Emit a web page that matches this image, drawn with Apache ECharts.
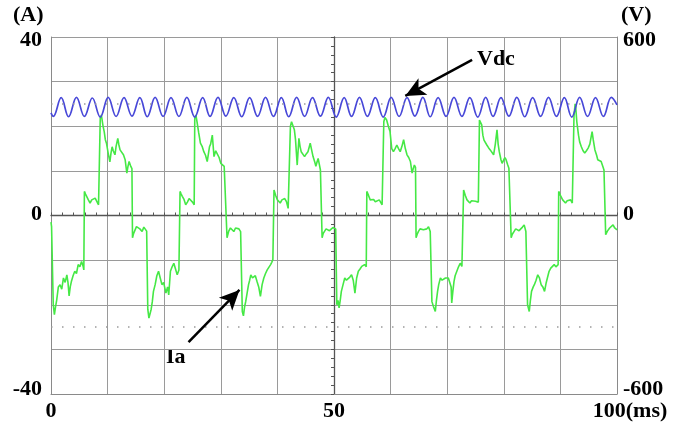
<!DOCTYPE html>
<html>
<head>
<meta charset="utf-8">
<script src="https://cdn.jsdelivr.net/npm/echarts@6/dist/echarts.min.js"></script>
<style>
html,body{margin:0;padding:0;background:#fff;}
#c{width:684px;height:427px;}
</style>
</head>
<body>
<div id="c"></div>
<script>
// ---- data ----
var xTicks = [0, 50, 100];           // ms
var leftTicks = [-40, 0, 40];        // A
var rightTicks = [-600, 0, 600];     // V
var cursorLevels = [-25, 25];        // A (dotted cursors)

// Ia (A) vs time (ms)
var iaData = [
[0.0,-1.5],[0.1,-2.5],[0.4,-20],[0.6,-22.2],[0.8,-20.5],[1.0,-19],[1.3,-16],[1.6,-15.5],[1.9,-16.5],[2.2,-14],[2.5,-15],[2.8,-13.3],[3.0,-15],[3.2,-18],[3.4,-16],[3.6,-14.8],[3.9,-13.5],[4.2,-12.5],[4.5,-13],[4.8,-11],[5.1,-11.5],[5.4,-10.3],[5.7,-11.5],[5.8,-12.2],
[5.9,5.4],[6.1,4.8],[6.3,4.6],[6.6,3.5],[6.9,2.8],[7.2,3.5],[7.5,3.3],[7.8,3.9],[8.1,3.5],[8.4,2.4],[8.5,2.4],
[8.7,21.8],[8.9,22.5],[9.1,22.2],[9.2,20],[9.4,18.8],[9.6,17],[9.8,16.2],[10.1,14],[10.4,12],[10.6,14],[10.8,15.4],[11.0,14.5],[11.3,13.6],[11.5,15.5],[11.8,17.3],[12.0,15.8],[12.2,14.7],[12.5,14.5],[12.8,13.6],[13.1,12.5],[13.4,9.5],[13.6,11],[13.8,12.1],[14.1,11],[14.3,10.5],
[14.4,-5],[14.6,-4],[14.8,-3.6],[15.1,-2.5],[15.4,-2.8],[15.7,-3],[16.1,-3.6],[16.4,-2.6],[16.7,-3],[16.9,-3.5],
[17.1,-21],[17.3,-23],[17.5,-23],[17.7,-21],[17.9,-19.3],[18.1,-17],[18.4,-15.5],[18.7,-13.5],[19.0,-12.5],[19.3,-14],[19.6,-15.5],[19.9,-15],[20.1,-14.8],[20.3,-17.4],[20.6,-16],[20.8,-17.8],[21.1,-12.5],[21.4,-11.5],[21.7,-10.7],[22.0,-12],[22.3,-13.3],[22.6,-12.2],[22.7,-12],
[22.8,5.4],[23.0,4.8],[23.2,4.3],[23.5,3.6],[23.8,2.4],[24.1,3],[24.4,3.8],[24.7,3.5],[25.0,3],[25.3,2.4],
[25.4,21.8],[25.6,22.5],[25.8,21],[26.1,18.5],[26.4,16.2],[26.7,15.5],[27.0,14.3],[27.3,13.5],[27.6,12.1],[28.0,15.4],[28.2,16],[28.5,18],[28.8,13.2],[29.1,14.5],[29.4,14.3],[29.7,13],[30.0,11.7],[30.3,11.5],[30.6,11],[30.9,10.6],
[31.1,-5],[31.4,-3.5],[31.7,-2.8],[32.0,-3.2],[32.3,-3.6],[32.6,-2.8],[32.9,-2.5],[33.2,-3],[33.5,-3.6],[33.7,-4],
[33.8,-21.5],[34.0,-22.5],[34.2,-20.5],[34.4,-19.3],[34.7,-17],[34.9,-15.5],[35.1,-14.5],[35.3,-13.3],[35.6,-14],[35.9,-14.4],[36.1,-13.5],[36.4,-14.8],[36.7,-16],[37.0,-18.1],[37.3,-15.5],[37.6,-14],[37.9,-13],[38.2,-12.2],[38.5,-12],[38.8,-11],[39.0,-10.5],[39.2,-9.9],
[39.4,5.7],[39.7,4.5],[40.0,3.5],[40.3,3.3],[40.5,2.8],[40.8,3.5],[41.0,3.5],[41.3,3.8],[41.6,3.1],[41.9,1.6],[42.1,2],
[42.3,20],[42.5,21],[42.7,20.3],[43.0,19.2],[43.2,17],[43.5,11.3],[43.8,17.3],[44.0,15.5],[44.2,14.3],[44.5,14],[44.8,13.2],[45.1,13.8],[45.4,14.3],[45.8,16.2],[46.0,15],[46.3,13.2],[46.6,12],[46.8,11],[47.0,12],[47.2,12.8],[47.4,11.5],[47.6,10.2],[47.8,10],
[47.9,-5],[48.1,-4],[48.3,-3.6],[48.6,-3],[48.9,-2.8],[49.2,-3.4],[49.5,-3.2],[49.8,-2.7],[50.1,-2.5],[50.3,-3],
[50.5,-20],[50.7,-19],[50.9,-20.7],[51.1,-19],[51.3,-17],[51.6,-15.5],[51.9,-14],[52.2,-14.5],[52.5,-14.8],[52.8,-13.8],[53.1,-13.3],[53.4,-14.5],[53.7,-17.4],[54.0,-14],[54.3,-12.5],[54.6,-12],[54.9,-11.4],[55.2,-11.5],[55.4,-11],[55.7,-11.5],
[55.8,5.4],[56.1,4.5],[56.4,3.5],[56.7,3.2],[57.0,3.6],[57.3,3.1],[57.6,3.4],[58.0,3.5],[58.3,3.1],[58.5,2.4],
[58.8,21],[59.0,22],[59.3,21.4],[59.6,20],[59.9,18.8],[60.2,15],[60.5,14.3],[60.8,15],[61.1,15.8],[61.4,15],[61.7,14.3],[62.0,15.5],[62.3,17],[62.6,15],[62.9,13.6],[63.2,13],[63.5,12.1],[63.8,9.5],[64.0,10.5],[64.2,11.3],[64.4,10.8],
[64.5,-5],[64.7,-4.2],[64.9,-3.6],[65.2,-3],[65.5,-2.8],[65.8,-3.2],[66.1,-3.6],[66.4,-3],[66.7,-2.5],[67.0,-3.6],[67.2,-4],
[67.3,-19.3],[67.6,-20.5],[67.9,-21.5],[68.1,-19],[68.3,-17],[68.5,-15.5],[68.8,-14],[69.1,-14.5],[69.4,-14.8],[69.7,-14],[69.9,-13.7],[70.2,-14],[70.5,-14.4],[70.7,-16],[70.8,-19.6],[71.0,-17],[71.2,-14.8],[71.4,-13.5],[71.7,-12.5],[72.0,-11.5],[72.3,-10.7],[72.6,-11.4],[72.8,-11],
[72.9,5.7],[73.2,4.5],[73.5,3.5],[73.8,3.2],[74.0,2.8],[74.3,3.3],[74.6,3.5],[75.0,3.2],[75.3,2.8],[75.5,3],
[75.7,21.4],[75.9,21],[76.1,20.3],[76.3,18],[76.5,16.9],[76.8,16.5],[77.0,15.8],[77.3,15.2],[77.6,14.7],[77.9,14.5],[78.2,13.6],[78.5,16],[78.8,19.2],[79.0,16],[79.2,14.3],[79.5,12.5],[79.7,11.7],[80.0,12.5],[80.2,13],[80.4,12.5],[80.7,11.3],[80.9,10.6],[81.1,10.5],
[81.3,-5],[81.5,-4.2],[81.8,-3.6],[82.1,-3],[82.4,-2.8],[82.7,-3.4],[83.0,-3.2],[83.3,-2.6],[83.6,-2.1],[83.9,-3.6],[84.1,-4],
[84.2,-20],[84.5,-21.5],[84.7,-19],[84.9,-17],[85.2,-16],[85.4,-15.5],[85.7,-14.5],[86.0,-13.3],[86.3,-14],[86.6,-15.5],[86.9,-16],[87.2,-17],[87.5,-15],[87.7,-14],[88.0,-12.5],[88.3,-11.8],[88.6,-11.5],[88.9,-11],[89.2,-11.5],[89.4,-11.8],[89.6,-11],
[89.7,5.4],[90.0,4.5],[90.4,3.5],[90.7,3.2],[90.9,2.8],[91.2,3.3],[91.5,3.6],[91.8,3.5],[92.1,2.8],[92.3,3],
[92.4,22.2],[92.6,25],[92.7,24.4],[92.9,21],[93.2,18],[93.4,16.5],[93.7,15.4],[94.0,14.5],[94.3,14],[94.6,14.5],[94.9,15.1],[95.2,16],[95.6,18.8],[95.8,17],[96.1,14.7],[96.4,13.5],[96.6,12.5],[96.9,12.8],[97.2,12.1],[97.5,11],[97.7,10.2],[97.9,10],
[98.0,-4.3],[98.3,-3.5],[98.7,-2.8],[99.0,-2.5],[99.3,-2.1],[99.6,-2.8],[100,-3.2]
];

// Vdc (V) vs time (ms): alternating troughs / peaks of the 360 Hz ripple
var vdcData = [
[0.0,345],[0.4,333],[1.8,396],[3.1,332],[4.5,397],[5.9,333],[7.3,395],[8.7,331],[10.1,397],[11.5,333],[12.9,396],[14.3,334],[15.7,396],
[17.0,332],[18.4,397],[19.8,333],[21.2,396],[22.6,333],[24.0,397],[25.4,331],[26.8,396],[28.1,333],[29.5,397],[30.9,334],[32.3,396],
[33.7,332],[35.1,396],[36.5,333],[37.9,397],[39.3,333],[40.7,396],[42.0,332],[43.4,397],[44.8,333],[46.2,396],[47.6,334],[49.0,397],
[50.4,331],[51.8,396],[53.1,333],[54.5,397],[55.9,333],[57.3,396],[58.7,331],[60.1,397],[61.5,333],[62.9,396],[64.3,334],[65.7,397],
[67.0,332],[68.4,396],[69.8,333],[71.2,397],[72.6,333],[74.0,396],[75.4,331],[76.8,397],[78.1,333],[79.5,396],[80.9,334],[82.3,397],
[83.7,332],[85.1,396],[86.5,333],[87.9,397],[89.3,333],[90.7,396],[92.0,331],[93.4,397],[94.8,333],[96.2,396],[97.6,333],[99.0,397],[100,372]
];

// annotation arrows (data coordinates: ms, V on right axis)
var vdcArrow = [[74.4, 523], [62.6, 402]];
var iaArrow = [[24.3, -426], [33.3, -250]];

var FONT = 'Liberation Serif';
var labelBase = {fontFamily: FONT, fontWeight: 'bold', fontSize: 22, color: '#000'};
var GRID_COLOR = '#9a9a9a';

var chart = echarts.init(document.getElementById('c'), null, {renderer: 'canvas'});

function leftFmt(v){
  if (v === leftTicks[2]) return '{t|' + v + '}';
  if (v === leftTicks[0]) return '{b|' + v + '}';
  if (v === leftTicks[1]) return '{m|' + v + '}';
  return '';
}
function rightFmt(v){
  if (v === rightTicks[2]) return '{t|' + v + '}';
  if (v === rightTicks[0]) return '{b|' + v + '}';
  if (v === rightTicks[1]) return '{m|' + v + '}';
  return '';
}
var richY = {
  t: Object.assign({padding: [7, 0, 0, 0]}, labelBase),
  b: Object.assign({padding: [0, 0, 9, 0]}, labelBase),
  m: Object.assign({padding: [0, 0, 2, 0]}, labelBase)
};

var option = {
  animation: false,
  backgroundColor: '#fff',
  grid: [
    {left: 51, right: 67, top: 37, bottom: 33},
    {left: 334, right: 67, top: 37, bottom: 33}
  ],
  xAxis: [
    {
      type: 'value', gridIndex: 0, min: 0, max: 100, interval: 10, position: 'bottom',
      axisLine: {show: true, onZero: false, lineStyle: {color: '#8a8a8a', width: 1}},
      axisTick: {show: false},
      splitLine: {show: true, lineStyle: {color: GRID_COLOR, width: 1}},
      axisLabel: {
        margin: 6, showMinLabel: true, showMaxLabel: true,
        formatter: function(v){
          if (v === xTicks[2]) return '{r|' + v + '(ms)}';
          if (v === xTicks[0] || v === xTicks[1]) return '{n|' + v + '}';
          return '';
        },
        rich: {
          r: Object.assign({padding: [0, 0, 0, 26]}, labelBase),
          n: Object.assign({}, labelBase)
        }
      }
    },
    {
      type: 'value', gridIndex: 0, min: 0, max: 100, interval: 2, position: 'top',
      axisLine: {show: true, onZero: true, onZeroAxisIndex: 0, lineStyle: {color: '#555', width: 1.3}},
      axisTick: {show: true, length: 3, inside: false, lineStyle: {color: '#555', width: 1}},
      axisLabel: {show: false},
      splitLine: {show: false}
    },
    {
      type: 'value', gridIndex: 1, min: 0, max: 50, show: false
    }
  ],
  yAxis: [
    {
      type: 'value', gridIndex: 0, min: -40, max: 40, interval: 10, position: 'left',
      axisLine: {show: true, onZero: false, lineStyle: {color: '#8a8a8a', width: 1}},
      axisTick: {show: false},
      splitLine: {show: true, lineStyle: {color: GRID_COLOR, width: 1}},
      axisLabel: {margin: 9, showMinLabel: true, showMaxLabel: true, formatter: leftFmt, rich: richY}
    },
    {
      type: 'value', gridIndex: 0, min: -600, max: 600, interval: 150, position: 'right',
      axisLine: {show: true, onZero: false, lineStyle: {color: '#8a8a8a', width: 1}},
      axisTick: {show: false},
      splitLine: {show: false},
      axisLabel: {margin: 6, showMinLabel: true, showMaxLabel: true, formatter: rightFmt, rich: richY}
    },
    {
      type: 'value', gridIndex: 1, min: -40, max: 40, interval: 2, position: 'left',
      axisLine: {show: true, onZero: false, lineStyle: {color: '#555', width: 1.3}},
      axisTick: {show: true, length: 3, inside: false, lineStyle: {color: '#555', width: 1}},
      axisLabel: {show: false},
      splitLine: {show: false}
    }
  ],
  series: [
    {
      name: 'Ia', type: 'line', xAxisIndex: 0, yAxisIndex: 0,
      data: iaData, showSymbol: false, symbol: 'none', smooth: false,
      lineStyle: {color: '#45e845', width: 1.6},
      z: 3,
      markLine: {
        silent: true, symbol: ['none', 'none'], label: {show: false},
        lineStyle: {color: '#9a9a9a', type: [1.5, 9.5], width: 1.5},
        data: cursorLevels.map(function(v){ return {yAxis: v}; })
      }
    },
    {
      name: 'Vdc', type: 'line', xAxisIndex: 0, yAxisIndex: 1,
      data: vdcData, showSymbol: false, symbol: 'none', smooth: 0.4,
      lineStyle: {color: '#4848d8', width: 1.7},
      z: 4,
      markLine: {
        silent: true, symbol: ['none', 'arrow'], symbolSize: [14, 20],
        label: {show: false},
        lineStyle: {color: '#000', type: 'solid', width: 2.5},
        data: [
          [{coord: vdcArrow[0]}, {coord: vdcArrow[1]}],
          [{coord: iaArrow[0]}, {coord: iaArrow[1]}]
        ]
      }
    }
  ],
  graphic: [
    {type: 'text', left: 13, top: 4, style: {text: '(A)', font: 'bold 22px "Liberation Serif"', fill: '#000'}},
    {type: 'text', left: 621, top: 4, style: {text: '(V)', font: 'bold 22px "Liberation Serif"', fill: '#000'}},
    {type: 'text', left: 477, top: 48, style: {text: 'Vdc', font: 'bold 22px "Liberation Serif"', fill: '#000'}},
    {type: 'text', left: 166, top: 346, style: {text: 'Ia', font: 'bold 22px "Liberation Serif"', fill: '#000'}}
  ]
};
chart.setOption(option);
</script>
</body>
</html>
